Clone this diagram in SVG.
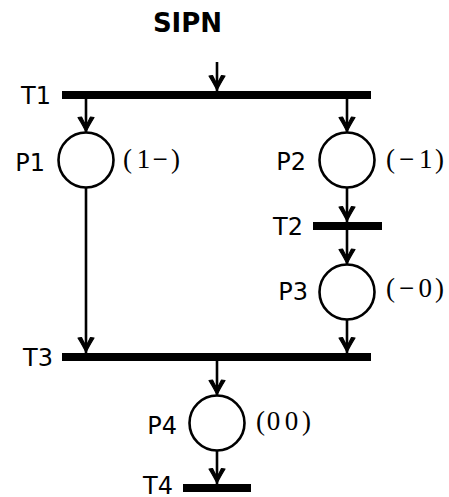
<svg xmlns="http://www.w3.org/2000/svg" width="449" height="497" viewBox="0 0 449 497">
<defs>
<marker id="arr" markerUnits="userSpaceOnUse" markerWidth="24" markerHeight="24" viewBox="-20 -12 24 24" refX="0" refY="0" orient="auto" overflow="visible">
<path d="M-0.5,0 Q-6,-2.5 -15,-8 L-15.5,-4.5 Q-10,-2 -7.5,0 Q-10,2 -15.5,4.5 L-15,8 Q-6,2.5 -0.5,0 Z" fill="#000" stroke="#000" stroke-width="1.2" stroke-linejoin="round"/>
</marker>
<style>
.lbl{font-family:"DejaVu Sans",sans-serif;font-size:24px;fill:#000;text-anchor:end}
.mk{font-family:"Liberation Serif",serif;font-size:27px;fill:#000}
.place{fill:#fff;stroke:#000;stroke-width:2.6}
.bar{fill:#000}
.conn line{stroke:#000;stroke-width:2.6;marker-end:url(#arr)}
</style>
</defs>
<rect width="449" height="497" fill="#fff"/>
<text x="187.5" y="32" font-family="DejaVu Sans, sans-serif" font-weight="bold" font-size="26" text-anchor="middle">SIPN</text>
<g class="conn" id="connectors">
<line x1="217" y1="62" x2="217" y2="91"/>
<line x1="86" y1="99" x2="86" y2="132.5"/>
<line x1="347" y1="99" x2="347" y2="132.5"/>
<line x1="86" y1="187.5" x2="86" y2="353"/>
<line x1="347" y1="187.5" x2="347" y2="222"/>
<line x1="347" y1="230" x2="347" y2="264.5"/>
<line x1="347" y1="319.5" x2="347" y2="353"/>
<line x1="217" y1="361" x2="217" y2="395.5"/>
<line x1="217" y1="450.5" x2="217" y2="484"/>
</g>
<g id="T1"><rect class="bar" x="62" y="91" width="309" height="8"/><text class="lbl" x="51" y="104">T1</text></g>
<g id="T2"><rect class="bar" x="313" y="222" width="69" height="8"/><text class="lbl" x="303" y="235">T2</text></g>
<g id="T3"><rect class="bar" x="62" y="353" width="309" height="8"/><text class="lbl" x="53" y="366">T3</text></g>
<g id="T4"><rect class="bar" x="183" y="484" width="68" height="8"/><text class="lbl" x="173" y="494">T4</text></g>
<g id="P1"><circle class="place" cx="86" cy="160" r="27.5"/><text class="lbl" x="45" y="171">P1</text><text class="mk" x="123 136.7 152.4 171" y="168">(1−)</text></g>
<g id="P2"><circle class="place" cx="347" cy="160" r="27.5"/><text class="lbl" x="306" y="170">P2</text><text class="mk" x="386 399 419 435" y="168">(−1)</text></g>
<g id="P3"><circle class="place" cx="347" cy="292" r="27.5"/><text class="lbl" x="308" y="300">P3</text><text class="mk" x="386 399 418.5 435" y="297">(−0)</text></g>
<g id="P4"><circle class="place" cx="217" cy="423" r="27.5"/><text class="lbl" x="177" y="434">P4</text><text class="mk" x="256 266.7 284.7 302" y="430">(00)</text></g>
</svg>
